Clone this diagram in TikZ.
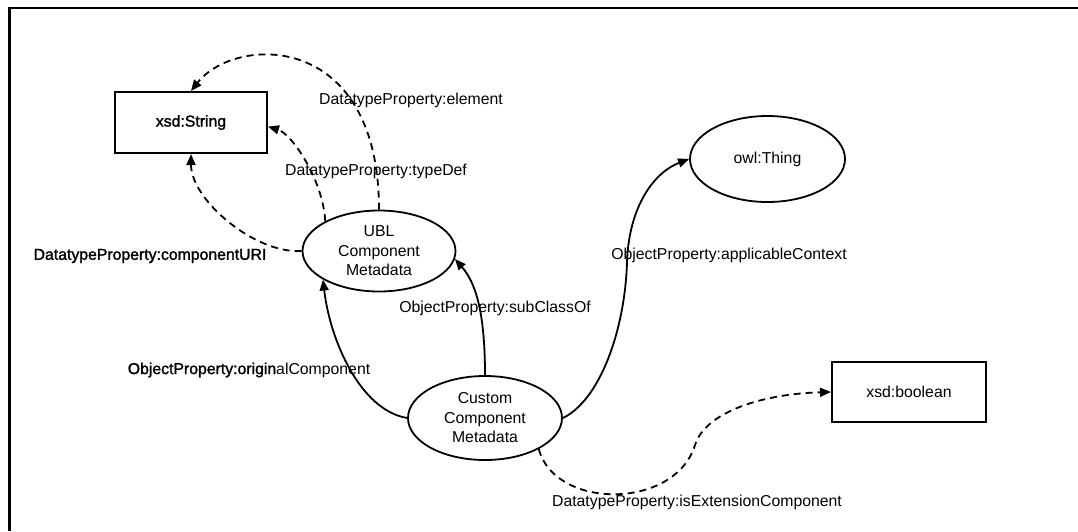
\documentclass[tikz,border=0pt]{standalone}
\usepackage{fontspec}
\setmainfont{Liberation Sans}
\newfontfamily\heavy[FakeBold=1.6]{Liberation Sans}
\usetikzlibrary{shapes.geometric,arrows.meta}
\begin{document}
\begin{tikzpicture}[x=1pt,y=-1pt,
  font=\fontsize{15.8}{19.5}\selectfont,
  cls/.style={ellipse,draw,line width=1.8pt,inner sep=0pt},
  dtype/.style={rectangle,draw,line width=2pt,inner sep=0pt},
  objprop/.style={line width=1.8pt,-{Triangle[length=11pt,width=9pt]}},
  dataprop/.style={objprop,dash pattern=on 7pt off 5pt},
  lbl/.style={inner sep=0pt,anchor=center}]
\useasboundingbox (0,0) rectangle (1078,531);
% frame edges
\draw[line width=2.6pt] (9.5,531) -- (9.5,8) -- (1078,8);

% classes and datatypes
\node[dtype,minimum width=152pt,minimum height=61pt,font=\heavy\fontsize{15.8}{19.5}\selectfont] (str) at (191,122.5) {xsd:String};
\node[dtype,minimum width=154pt,minimum height=60pt] (bool) at (909,392) {xsd:boolean};
\node[cls,minimum width=153pt,minimum height=81pt,align=center] (ubl) at (379,251) {UBL\\Component\\Metadata};
\node[cls,minimum width=154pt,minimum height=84pt,align=center] (cus) at (485,418) {Custom\\Component\\Metadata};
\node[cls,minimum width=155pt,minimum height=86pt] (thing) at (767.5,159) {owl:Thing};

% datatype properties of UBL Component Metadata
\draw[dataprop] (ubl.west) .. controls (255,254) and (191,200) .. (str.south);
\draw[dataprop] (ubl.151) .. controls (323,180) and (292,134) .. (str.-3);
\draw[dataprop] (ubl.north) .. controls (379,30) and (235,35) .. (str.north);

% object properties of Custom Component Metadata
\draw[objprop] (cus.north) .. controls (485,310) and (475,282) .. (ubl.-6);
\draw[objprop] (cus.west) .. controls (360,410) and (330,340) .. (ubl.207);
\draw[objprop] (cus.east) .. controls (600,400) and (625,330) .. (627,262)
  .. controls (629,205) and (655,172) .. (thing.west);
\draw[dataprop] (cus.-30) .. controls (555,510) and (675,510) .. (695,445)
  .. controls (705,413) and (760,394) .. (bool.west);

% property labels
\node[lbl] (le) at (411,100) {DatatypeProperty:element};
\node[lbl] (lt) at (376,171) {DatatypeProperty:typeDef};
\node[lbl,font=\heavy\fontsize{15.8}{19.5}\selectfont] (lu) at (150,256) {DatatypeProperty:componentURI};
\node[lbl] (ls) at (495,308) {ObjectProperty:subClassOf};
\node[lbl] (lo) at (249,370) {{\heavy ObjectProperty:origin}alComponent};
\node[lbl] (la) at (729,255) {ObjectProperty:applicableContext};
\node[lbl] (lx) at (697,502) {DatatypeProperty:isExtensionComponent};
\end{tikzpicture}
\end{document}
